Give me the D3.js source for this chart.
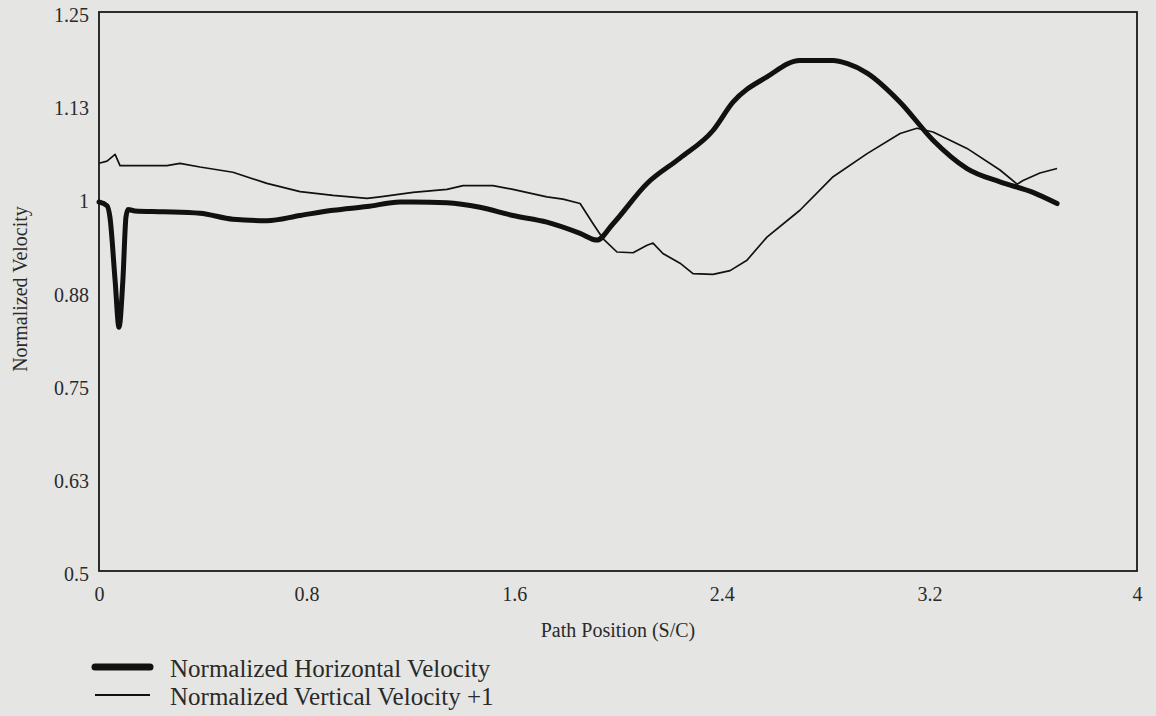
<!DOCTYPE html>
<html>
<head>
<meta charset="utf-8">
<script src="https://cdn.jsdelivr.net/npm/d3@7"></script>
<style>
  body { margin: 0; background: #e5e6e4; }
  svg { display: block; }
  text { font-family: "Liberation Serif", "Times New Roman", serif; fill: #2a2a2a; }
</style>
</head>
<body>
<svg width="1156" height="716"></svg>
<script>
// path position (S/C) and normalized horizontal velocity
const hPos = [0, 0.031, 0.042, 0.062, 0.077, 0.092, 0.104, 0.112, 0.139, 0.25, 0.389, 0.516, 0.647, 0.775,
  0.902, 1.033, 1.160, 1.210, 1.341, 1.468, 1.595, 1.726, 1.854, 1.919, 1.981, 2.112, 2.239, 2.366,
  2.443, 2.574, 2.701, 2.829, 2.882, 2.960, 3.087, 3.214, 3.345, 3.472, 3.599, 3.692];
const hVel = [0.995, 0.99, 0.975, 0.89, 0.827, 0.89, 0.975, 0.985, 0.983, 0.982, 0.980, 0.972, 0.970, 0.977,
  0.984, 0.989, 0.995, 0.995, 0.994, 0.988, 0.977, 0.968, 0.953, 0.944, 0.966, 1.020, 1.054, 1.091,
  1.129, 1.163, 1.185, 1.185, 1.181, 1.168, 1.129, 1.078, 1.040, 1.022, 1.008, 0.993];

// path position and normalized vertical velocity +1
const vPos = [0, 0.031, 0.062, 0.081, 0.100, 0.262, 0.312, 0.389, 0.516, 0.647, 0.775, 0.902, 1.033,
  1.083, 1.210, 1.341, 1.403, 1.518, 1.595, 1.726, 1.788, 1.854, 1.904, 1.942, 1.996, 2.058, 2.112,
  2.135, 2.173, 2.239, 2.289, 2.366, 2.432, 2.497, 2.574, 2.701, 2.829, 2.960, 3.087, 3.152, 3.214,
  3.345, 3.472, 3.538, 3.561, 3.626, 3.692];
const vVel = [1.047, 1.050, 1.059, 1.044, 1.044, 1.044, 1.047, 1.042, 1.035, 1.020, 1.009, 1.004, 1.000,
  1.002, 1.008, 1.012, 1.017, 1.017, 1.012, 1.002, 0.999, 0.993, 0.966, 0.946, 0.928, 0.927, 0.937,
  0.940, 0.926, 0.913, 0.899, 0.898, 0.903, 0.917, 0.948, 0.984, 1.029, 1.060, 1.087, 1.094, 1.089,
  1.067, 1.038, 1.019, 1.024, 1.034, 1.040];

const xTicks = [0, 0.8, 1.6, 2.4, 3.2, 4];
const xTickLabels = ['0', '0.8', '1.6', '2.4', '3.2', '4'];
const yTicks = [0.5, 0.625, 0.75, 0.875, 1, 1.125, 1.25];
const yTickLabels = ['0.5', '0.63', '0.75', '0.88', '1', '1.13', '1.25'];
const seriesNames = ['Normalized Horizontal Velocity', 'Normalized Vertical Velocity +1'];

const svg = d3.select('svg');
const mLeft = 99, mRight = 1137, mTop = 12, mBottom = 571;

const x = d3.scaleLinear().domain([0, 4]).range([mLeft, mRight]);
const y = d3.scaleLinear().domain([0.5, 1.25]).range([mBottom, mTop]);

// x axis labels
const xAxis = svg.append('g')
  .attr('transform', `translate(0,${mBottom})`)
  .call(d3.axisBottom(x).tickValues(xTicks).tickSize(0).tickPadding(16)
    .tickFormat((d, i) => xTickLabels[i]));
xAxis.select('.domain').remove();
xAxis.attr('font-family', null).attr('font-size', null);
xAxis.selectAll('text').style('font-size', '20px').attr('fill', null);

// y axis labels
const yAxis = svg.append('g')
  .attr('transform', `translate(${mLeft},0)`)
  .call(d3.axisLeft(y).tickValues(yTicks).tickSize(0).tickPadding(10)
    .tickFormat((d, i) => yTickLabels[i]));
yAxis.select('.domain').remove();
yAxis.attr('font-family', null).attr('font-size', null);
yAxis.selectAll('text').style('font-size', '20px').attr('fill', null)
  .attr('dy', '0.48em');

// frame
svg.append('rect')
  .attr('x', mLeft).attr('y', mTop)
  .attr('width', mRight - mLeft).attr('height', mBottom - mTop)
  .attr('fill', 'none').attr('stroke', '#1a1a1a').attr('stroke-width', 1.8);

// axis titles
svg.append('text')
  .attr('x', (mLeft + mRight) / 2).attr('y', 637)
  .attr('text-anchor', 'middle').style('font-size', '20px')
  .text('Path Position (S/C)');

svg.append('text')
  .attr('transform', 'translate(27,289) rotate(-90)')
  .attr('text-anchor', 'middle').style('font-size', '20px')
  .text('Normalized Velocity');

const line = d3.line().x((d) => x(d[0])).y((d) => y(d[1]));

svg.append('path')
  .datum(vPos.map((p, i) => [p, vVel[i]]))
  .attr('d', line)
  .attr('fill', 'none').attr('stroke', '#111').attr('stroke-width', 1.7)
  .attr('stroke-linejoin', 'round');

svg.append('path')
  .datum(hPos.map((p, i) => [p, hVel[i]]))
  .attr('d', d3.line().x((d) => x(d[0])).y((d) => y(d[1])).curve(d3.curveMonotoneX))
  .attr('fill', 'none').attr('stroke', '#111').attr('stroke-width', 5)
  .attr('stroke-linejoin', 'round').attr('stroke-linecap', 'round');

// legend
const legend = svg.append('g').attr('transform', 'translate(95,0)');
const legendY = [667, 695];
const legendW = [7, 2];
legend.selectAll('line')
  .data(seriesNames)
  .join('line')
  .attr('x1', 0).attr('x2', 55)
  .attr('y1', (d, i) => legendY[i]).attr('y2', (d, i) => legendY[i])
  .attr('stroke', '#111')
  .attr('stroke-width', (d, i) => legendW[i])
  .attr('stroke-linecap', (d, i) => (i === 0 ? 'round' : 'butt'));
legend.selectAll('text')
  .data(seriesNames)
  .join('text')
  .attr('x', 75)
  .attr('y', (d, i) => legendY[i] + 10)
  .style('font-size', '25px')
  .text((d) => d);
</script>
</body>
</html>
